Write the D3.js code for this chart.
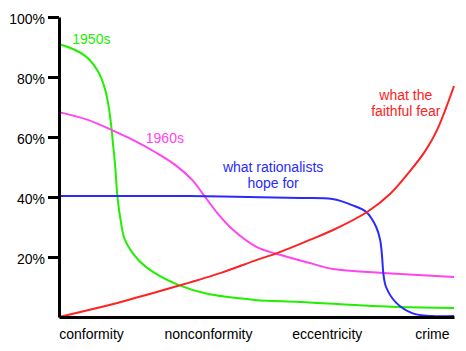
<!DOCTYPE html>
<html>
<head>
<meta charset="utf-8">
<script src="https://cdn.jsdelivr.net/npm/d3@7"></script>
<style>
  body { margin: 0; background: #fff; }
  text { font-family: "Liberation Sans", Arial, Helvetica, sans-serif; }
</style>
</head>
<body>
<div id="chart"></div>
<script>
// x runs 0..100 along the axis, y is percent
const xCategories = ["conformity", "nonconformity", "eccentricity", "crime"]
const xCategoryPos = [8.1, 37.7, 67.8, 94.4]
const yTicks = [20, 40, 60, 80, 100]

const green1950s = [
  [0, 90.9], [4.1, 89], [7.4, 86.2], [9.9, 81.8], [11.6, 76.2], [12.5, 70.7],
  [13.2, 64], [13.7, 57.3], [14.2, 50.7], [14.8, 40.1], [15.6, 32.3], [16.7, 25.7],
  [20.1, 19], [24.3, 14.6], [30.2, 10.7], [37.0, 7.9], [49.6, 5.7], [61, 5],
  [85.6, 3.3], [100, 3]
]
const magenta1960s = [
  [0, 68.3], [7.3, 65.7], [13.4, 62.3], [19.2, 58.7], [24.3, 55], [29.4, 50.7],
  [33.7, 45.7], [37, 40], [40.3, 34.3], [44.1, 29], [50.1, 23.3], [55.2, 21],
  [63.5, 18], [69.4, 16], [82, 14.7], [100, 13.3]
]
const blueRationalists = [
  [0, 40.3], [33.1, 40.3], [60.9, 39.7], [69.2, 39.3], [74.2, 37.3], [77.8, 35],
  [80.3, 30], [81.3, 25.7], [81.8, 20], [82.1, 14.7], [82.8, 10], [85.4, 4.7],
  [89.4, 1.3], [94.4, 0.3], [100, 0.3]
]
const redFaithful = [
  [0, 0], [15.9, 5.1], [30.2, 10.4], [41.2, 14.8], [49.6, 18.8], [55.2, 21.3],
  [63.5, 25.7], [69.4, 29], [78, 35], [83.8, 41], [88.9, 48.7], [92.7, 55.3],
  [95.7, 62.3], [100, 77]
]

const series = [
  { name: "1950s", color: "#22ee00", values: green1950s,
    label: ["1950s"], lx: 8.2, ly: 44 },
  { name: "1960s", color: "#ff44f0", values: magenta1960s,
    label: ["1960s"], lx: 26.8, ly: 143 },
  { name: "rationalists", color: "#2a2aff", values: blueRationalists,
    label: ["what rationalists", "hope for"], lx: 54.2, ly: 172 },
  { name: "faithful", color: "#ff2222", values: redFaithful,
    label: ["what the", "faithful fear"], lx: 87.8, ly: 100 }
]

const W = 466, H = 351
const margin = { top: 17, right: 12, bottom: 34, left: 59 }
const width = W - margin.left - margin.right
const height = H - margin.top - margin.bottom

const svg = d3.select("#chart").append("svg")
  .attr("width", W)
  .attr("height", H)

const g = svg.append("g")
  .attr("transform", "translate(" + margin.left + "," + margin.top + ")")

const x = d3.scaleLinear().domain([0, 100]).range([0, width])
const y = d3.scaleLinear().domain([0, 100]).range([height, 0])

const line = d3.line()
  .x(d => x(d[0]))
  .y(d => y(d[1]))
  .curve(d3.curveCatmullRom.alpha(0.5))

series.forEach(s => {
  g.append("path")
    .datum(s.values)
    .attr("fill", "none")
    .attr("stroke", s.color)
    .attr("stroke-width", 2)
    .attr("d", line)

  const t = g.append("text")
    .attr("text-anchor", "middle")
    .attr("fill", s.color)
    .style("font-size", "14px")
  s.label.forEach((l, i) => {
    t.append("tspan")
      .attr("x", x(s.lx))
      .attr("y", s.ly - margin.top + i * 16)
      .text(l)
  })
})

// y axis
const yAxis = g.append("g")
  .call(d3.axisLeft(y).tickValues(yTicks).tickSize(11).tickSizeOuter(0).tickPadding(3)
    .tickFormat(d => d + "%"))
yAxis.select(".domain").attr("stroke-width", 3)
yAxis.selectAll(".tick line").attr("stroke-width", 3)
yAxis.selectAll(".tick text")
  .attr("dy", "0.45em")
  .style("font-size", "14px")
  .attr("fill", "#000")

// x axis
const xAxis = g.append("g")
  .attr("transform", "translate(0," + height + ")")
  .call(d3.axisBottom(x).tickValues(xCategoryPos).tickSize(0).tickSizeOuter(0).tickPadding(12)
    .tickFormat((d, i) => xCategories[i]))
xAxis.select(".domain").attr("stroke-width", 3)
xAxis.selectAll(".tick text")
  .style("font-size", "14px")
  .attr("fill", "#000")
</script>
</body>
</html>
